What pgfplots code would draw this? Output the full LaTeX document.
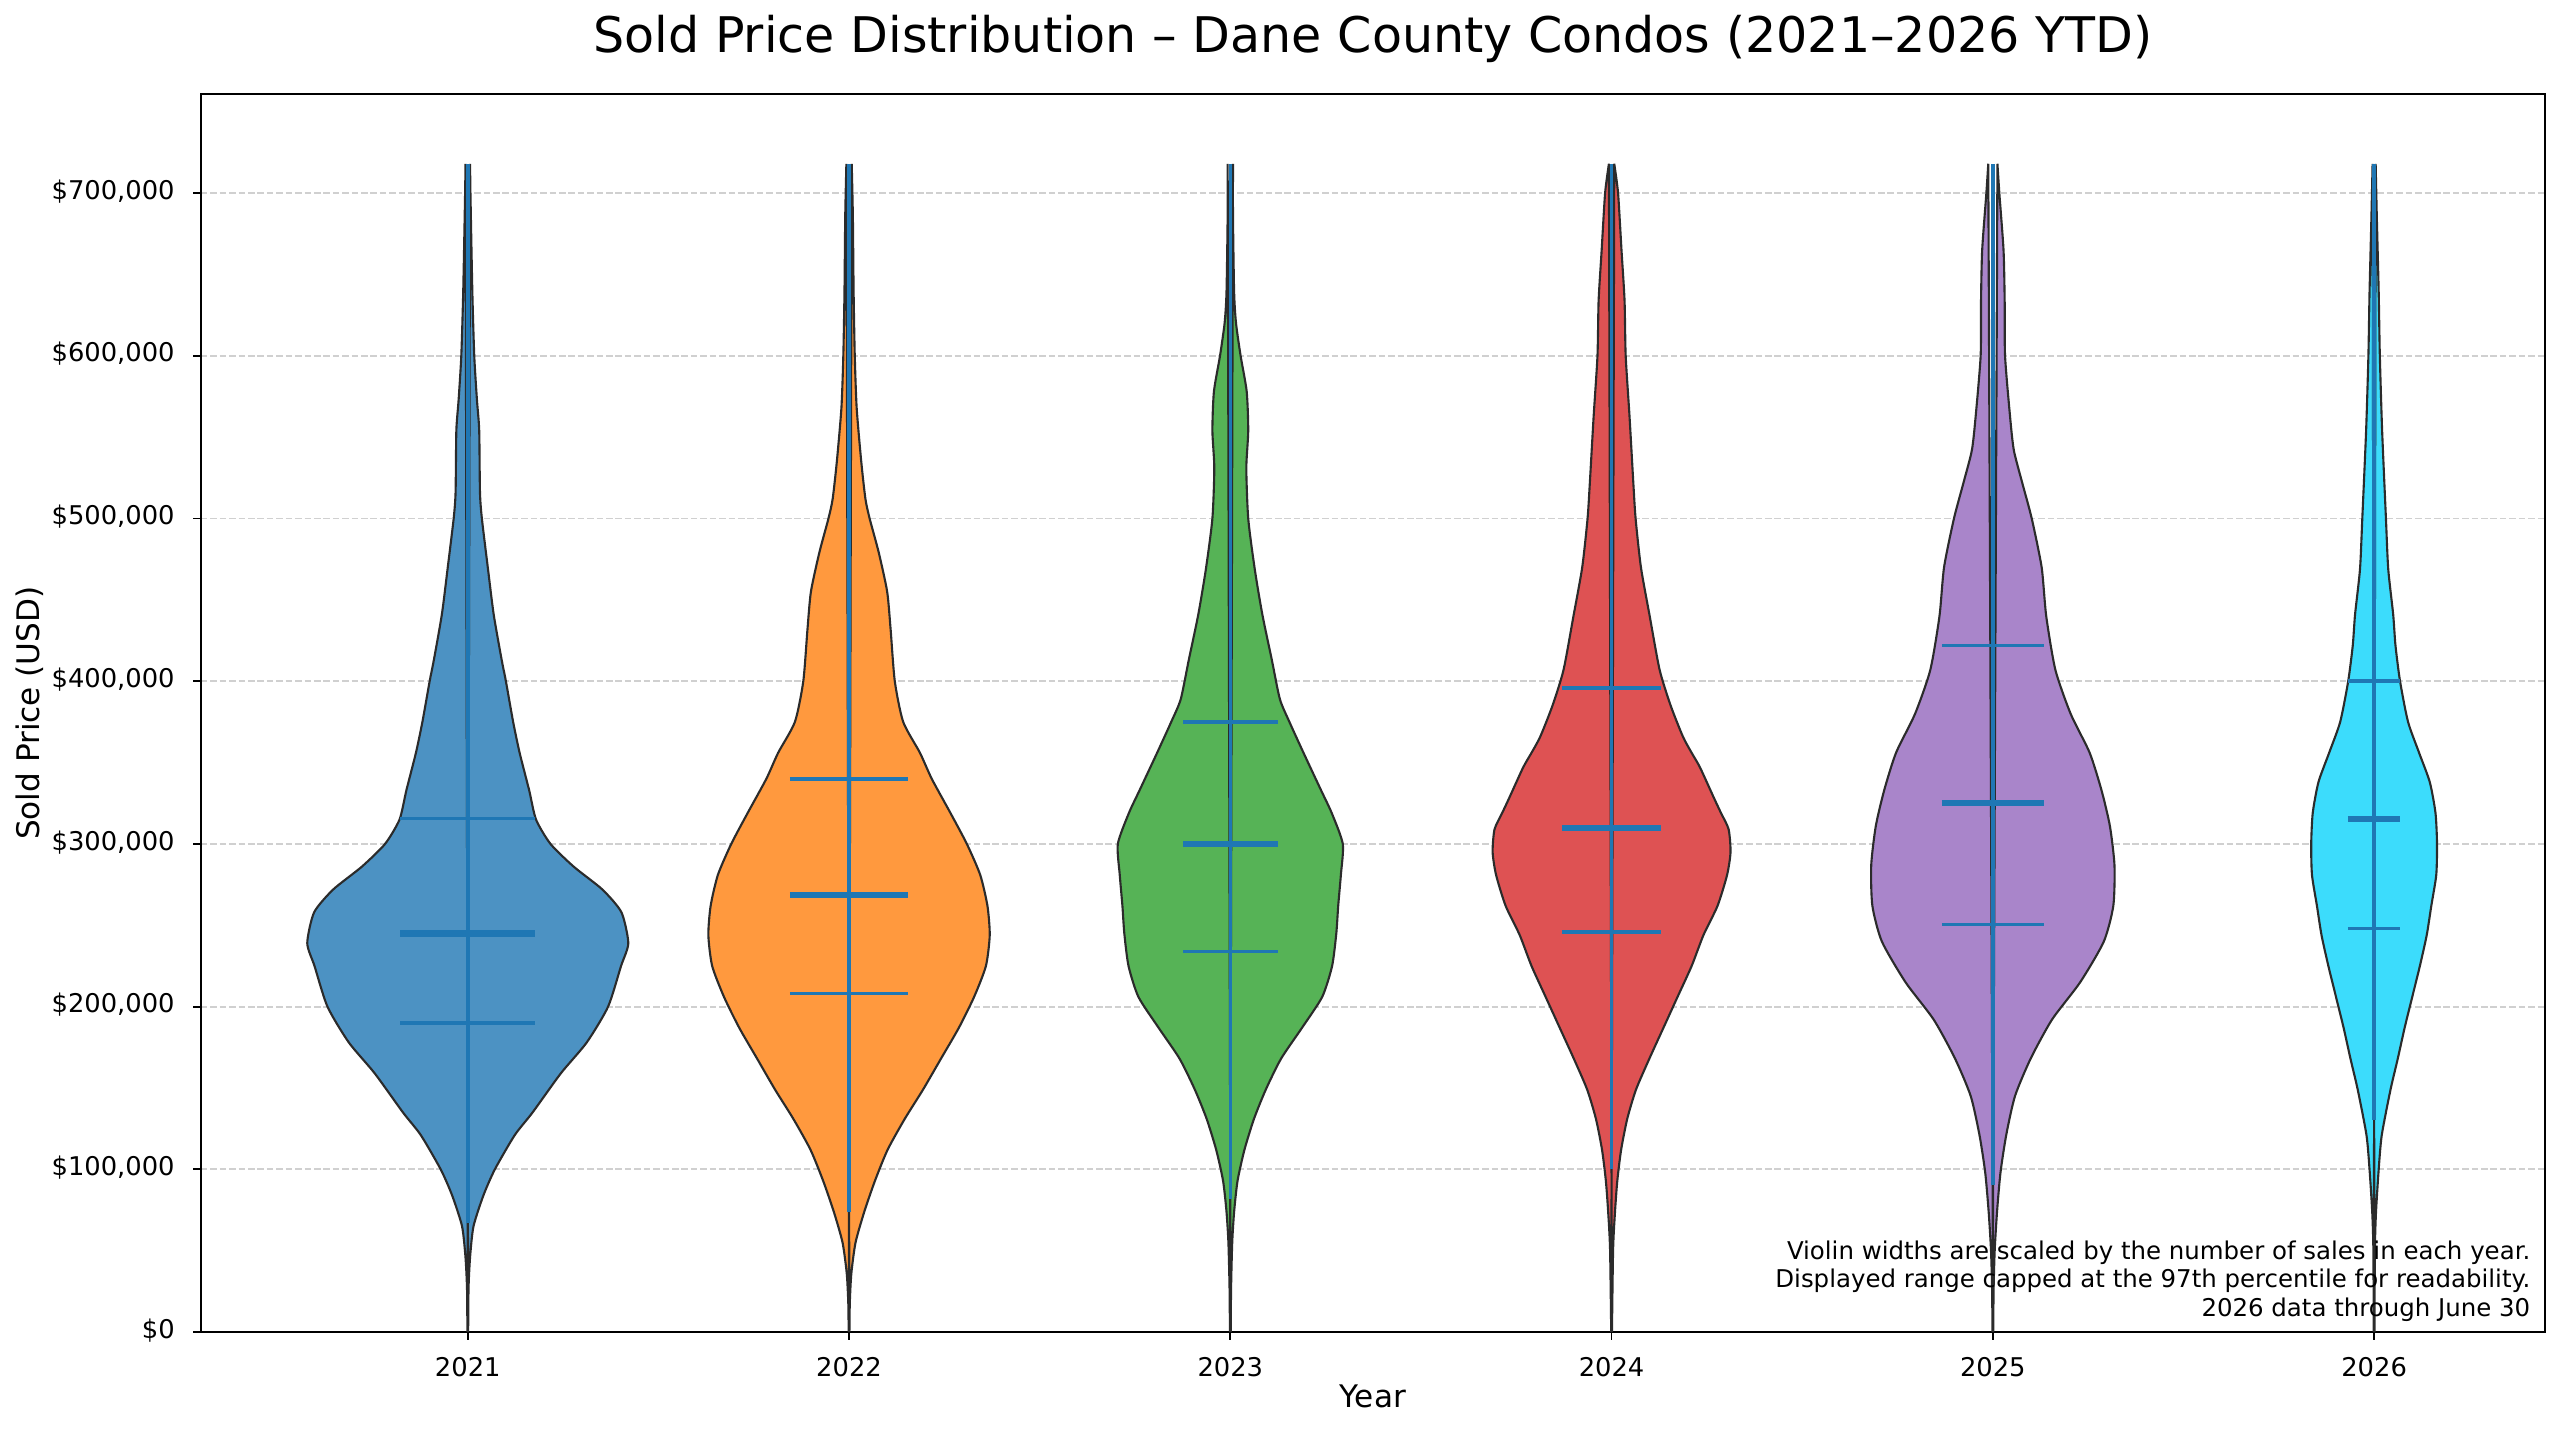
\documentclass[border=0pt]{standalone}
\usepackage{pgfplots}
\pgfplotsset{compat=1.18}
\usepackage{pgfplotstable}
\usepgfplotslibrary{fillbetween}
\usepackage{fontspec}
\setmainfont{DejaVu Sans}

\definecolor{cA}{HTML}{4C92C3}
\definecolor{cB}{HTML}{FF993E}
\definecolor{cC}{HTML}{56B356}
\definecolor{cD}{HTML}{DE5253}
\definecolor{cE}{HTML}{A985CA}
\definecolor{cF}{HTML}{3CDCFC}
\definecolor{barc}{HTML}{1F77B4}
\definecolor{edge}{HTML}{2B2B2B}
\definecolor{gridc}{HTML}{D0D0D0}

% y in thousands of USD, w = half width of the violin in category units
\pgfplotstableread{
y w
0 0.001
27 0.002
46 0.006
65 0.015
84 0.041
100 0.071
121 0.123
135 0.170
159 0.244
178 0.312
200 0.368
225 0.402
239 0.421
258 0.403
272 0.353
286 0.278
300 0.217
315 0.179
333 0.161
356 0.136
375 0.119
400 0.100
413 0.089
441 0.068
469 0.053
500 0.037
516 0.032
554 0.030
573 0.024
600 0.017
639 0.012
700 0.007
718 0.006
}\vA
\pgfplotstableread{
y w
0 0.001
18 0.002
36 0.006
55 0.017
74 0.040
93 0.068
112 0.101
131 0.146
149 0.194
168 0.241
187 0.288
206 0.328
225 0.359
244 0.369
262 0.363
281 0.344
300 0.309
319 0.266
340 0.217
356 0.186
375 0.142
400 0.120
432 0.109
455 0.100
479 0.078
500 0.054
512 0.043
535 0.032
568 0.020
600 0.015
639 0.012
686 0.010
718 0.007
}\vB
\pgfplotstableread{
y w
0 0.001
27 0.002
55 0.005
74 0.010
93 0.019
112 0.037
131 0.062
149 0.093
168 0.133
187 0.188
206 0.241
225 0.267
245 0.278
262 0.283
281 0.290
300 0.295
319 0.266
333 0.238
356 0.192
375 0.155
389 0.130
413 0.109
441 0.084
469 0.064
500 0.047
531 0.042
554 0.047
578 0.043
600 0.027
620 0.015
639 0.010
686 0.007
718 0.007
}\vC
\pgfplotstableread{
y w
0 0.001
51 0.004
74 0.009
93 0.015
112 0.025
131 0.041
149 0.064
168 0.099
187 0.136
206 0.173
225 0.210
244 0.241
262 0.278
281 0.303
295 0.312
309 0.307
319 0.287
328 0.269
347 0.232
356 0.210
366 0.187
385 0.155
407 0.126
440 0.100
470 0.077
500 0.063
522 0.057
563 0.047
600 0.037
634 0.034
665 0.026
700 0.017
718 0.007
}\vD
\pgfplotstableread{
y w
0 0.001
27 0.002
51 0.005
74 0.011
98 0.020
121 0.035
145 0.058
168 0.099
192 0.155
215 0.229
240 0.291
262 0.316
287 0.319
311 0.307
333 0.285
356 0.254
380 0.204
407 0.164
440 0.140
470 0.128
500 0.102
522 0.077
542 0.055
563 0.045
600 0.032
634 0.031
665 0.028
700 0.017
718 0.012
}\vE
\pgfplotstableread{
y w
0 0.001
51 0.002
74 0.005
100 0.012
121 0.020
149 0.043
168 0.062
187 0.080
206 0.100
225 0.120
244 0.138
262 0.150
281 0.163
300 0.165
319 0.161
338 0.146
356 0.118
375 0.089
400 0.068
422 0.056
441 0.050
469 0.037
500 0.031
554 0.021
600 0.015
639 0.012
686 0.007
718 0.004
}\vF

\newcommand{\violin}[4]{%
  \addplot[draw=none, smooth, tension=0.4, forget plot, name path=r#4] table[x expr=#2+\thisrow{w}, y=y] {#1};
  \addplot[draw=none, smooth, tension=0.4, forget plot, name path=l#4] table[x expr=#2-\thisrow{w}, y=y] {#1};
  \addplot[fill=#3, draw=edge, line width=0.95pt, forget plot] fill between[of=r#4 and l#4];
}

\begin{document}
\begin{tikzpicture}
\path (0,0) rectangle (1152pt,644pt);
\begin{axis}[
  at={(90.4pt,44.55pt)}, anchor=south west,
  scale only axis, width=1054.8pt, height=557pt,
  xmin=-0.700, xmax=5.448, ymin=0, ymax=760.7,
  xtick={0,1,2,3,4,5},
  xticklabels={2021,2022,2023,2024,2025,2026},
  ytick={0,100,200,300,400,500,600,700},
  yticklabels={\$0,{\$100,000},{\$200,000},{\$300,000},{\$400,000},{\$500,000},{\$600,000},{\$700,000}},
  xtick pos=bottom, ytick pos=left,
  tick align=outside, major tick length=3.5pt,
  tick style={black, line width=0.8pt},
  axis line style={line width=0.8pt},
  ymajorgrids,
  grid style={gridc, line width=0.8pt, dash pattern=on 2.96pt off 1.28pt},
  tick label style={font=\fontsize{11.6}{13}\selectfont},
  xticklabel style={anchor=base, inner sep=0pt, yshift=-16.3pt},
  yticklabel style={anchor=mid east, inner sep=0pt, xshift=-8.1pt},
  title={Sold Price Distribution – Dane County Condos (2021–2026 YTD)},
  title style={at={(axis description cs:0.5,1)}, anchor=base, yshift=12.8pt, font=\fontsize{22.1}{26}\selectfont, inner sep=0pt},
  xlabel={Year},
  xlabel style={at={(axis description cs:0.5,0)}, anchor=base, yshift=-34.1pt, font=\fontsize{14}{17}\selectfont, inner sep=0pt},
  ylabel={Sold Price (USD)},
  ylabel style={at={(axis description cs:-0.0689,0.5)}, anchor=base, font=\fontsize{14}{17}\selectfont, inner sep=0pt},
]
\violin{\vA}{0}{cA}{a}
\violin{\vB}{1}{cB}{b}
\violin{\vC}{2}{cC}{c}
\violin{\vD}{3}{cD}{d}
\violin{\vE}{4}{cE}{e}
\violin{\vF}{5}{cF}{f}

% central bars
\addplot[barc, line width=1.6pt] coordinates {(0,67) (0,718)};
\addplot[barc, line width=1.6pt] coordinates {(1,74) (1,718)};
\addplot[barc, line width=1.6pt] coordinates {(2,82) (2,718)};
\addplot[barc, line width=1.6pt] coordinates {(3,100) (3,718)};
\addplot[barc, line width=1.6pt] coordinates {(4,90.6) (4,718)};
\addplot[barc, line width=1.6pt] coordinates {(5,130.6) (5,718)};

% quartiles
\addplot[barc, line width=1.6pt] coordinates {(-0.177,190) (0.177,190)};
\addplot[barc, line width=1.6pt] coordinates {(-0.177,315.5) (0.177,315.5)};
\addplot[barc, line width=1.6pt] coordinates {(0.845,208) (1.155,208)};
\addplot[barc, line width=1.6pt] coordinates {(0.845,340) (1.155,340)};
\addplot[barc, line width=1.6pt] coordinates {(1.876,234) (2.124,234)};
\addplot[barc, line width=1.6pt] coordinates {(1.876,375) (2.124,375)};
\addplot[barc, line width=1.6pt] coordinates {(2.870,246) (3.130,246)};
\addplot[barc, line width=1.6pt] coordinates {(2.870,396) (3.130,396)};
\addplot[barc, line width=1.6pt] coordinates {(3.866,250.6) (4.134,250.6)};
\addplot[barc, line width=1.6pt] coordinates {(3.866,422) (4.134,422)};
\addplot[barc, line width=1.6pt] coordinates {(4.931,248) (5.069,248)};
\addplot[barc, line width=1.6pt] coordinates {(4.931,400) (5.069,400)};

% medians
\addplot[barc, line width=2.8pt] coordinates {(-0.177,245) (0.177,245)};
\addplot[barc, line width=2.8pt] coordinates {(0.845,268.5) (1.155,268.5)};
\addplot[barc, line width=2.8pt] coordinates {(1.876,300) (2.124,300)};
\addplot[barc, line width=2.8pt] coordinates {(2.870,310) (3.130,310)};
\addplot[barc, line width=2.8pt] coordinates {(3.866,325.4) (4.134,325.4)};
\addplot[barc, line width=2.8pt] coordinates {(4.931,315.5) (5.069,315.5)};

\node[anchor=south east, align=right, inner sep=0pt, font=\fontsize{11}{12.9}\selectfont]
  at (rel axis cs:1,0) [xshift=-6.4pt, yshift=4.6pt]
  {Violin widths are scaled by the number of sales in each year.\\
   Displayed range capped at the 97th percentile for readability.\\
   2026 data through June 30};
\end{axis}
\end{tikzpicture}
\end{document}
